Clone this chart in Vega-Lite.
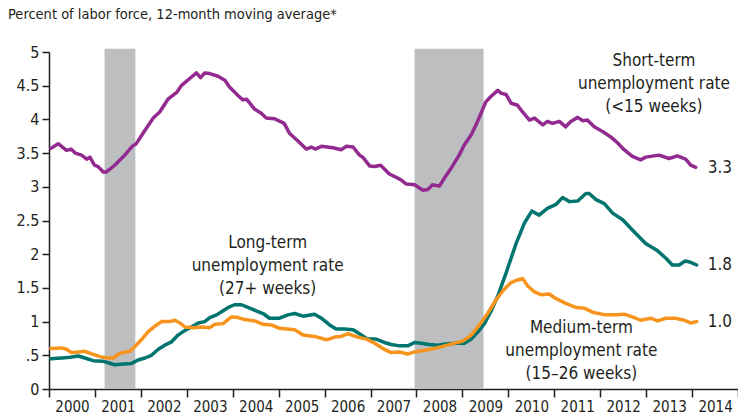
{
  "$schema": "https://vega.github.io/schema/vega-lite/v6.json",
  "width": 689,
  "height": 337,
  "autosize": {"type": "none"},
  "padding": {"left": 49, "top": 52, "right": 0, "bottom": 29},
  "background": "white",
  "config": {
    "view": {"stroke": null},
    "font": "DejaVu Sans Condensed, Roboto, sans-serif",
    "text": {"font": "DejaVu Sans Condensed, Roboto, sans-serif"}
  },
  "title": {
    "text": "Percent of labor force, 12-month moving average*",
    "anchor": "start",
    "frame": "group",
    "dx": -41,
    "offset": 22,
    "fontSize": 14.5,
    "fontWeight": "normal",
    "font": "DejaVu Sans Condensed, Roboto, sans-serif",
    "color": "#231f20"
  },
  "datasets": {
    "recessions": [
      {"start": 2001.21, "end": 2001.88},
      {"start": 2007.96, "end": 2009.46}
    ],
    "series": [
      {"series": "short", "year": 2000.04, "value": 3.57},
      {"series": "short", "year": 2000.2, "value": 3.64},
      {"series": "short", "year": 2000.38, "value": 3.54},
      {"series": "short", "year": 2000.48, "value": 3.56},
      {"series": "short", "year": 2000.57, "value": 3.5},
      {"series": "short", "year": 2000.71, "value": 3.47},
      {"series": "short", "year": 2000.82, "value": 3.41},
      {"series": "short", "year": 2000.89, "value": 3.44},
      {"series": "short", "year": 2000.99, "value": 3.32},
      {"series": "short", "year": 2001.07, "value": 3.3},
      {"series": "short", "year": 2001.18, "value": 3.22},
      {"series": "short", "year": 2001.25, "value": 3.22},
      {"series": "short", "year": 2001.43, "value": 3.32},
      {"series": "short", "year": 2001.65, "value": 3.47},
      {"series": "short", "year": 2001.81, "value": 3.6},
      {"series": "short", "year": 2001.9, "value": 3.64},
      {"series": "short", "year": 2002.09, "value": 3.84},
      {"series": "short", "year": 2002.27, "value": 4.02},
      {"series": "short", "year": 2002.41, "value": 4.11},
      {"series": "short", "year": 2002.59, "value": 4.3},
      {"series": "short", "year": 2002.78, "value": 4.4},
      {"series": "short", "year": 2002.88, "value": 4.5},
      {"series": "short", "year": 2003.07, "value": 4.61},
      {"series": "short", "year": 2003.21, "value": 4.69},
      {"series": "short", "year": 2003.3, "value": 4.62},
      {"series": "short", "year": 2003.39, "value": 4.69},
      {"series": "short", "year": 2003.5, "value": 4.68},
      {"series": "short", "year": 2003.68, "value": 4.64},
      {"series": "short", "year": 2003.83, "value": 4.58},
      {"series": "short", "year": 2003.93, "value": 4.48},
      {"series": "short", "year": 2004.12, "value": 4.35},
      {"series": "short", "year": 2004.22, "value": 4.29},
      {"series": "short", "year": 2004.3, "value": 4.3},
      {"series": "short", "year": 2004.48, "value": 4.15},
      {"series": "short", "year": 2004.62, "value": 4.09},
      {"series": "short", "year": 2004.73, "value": 4.02},
      {"series": "short", "year": 2004.91, "value": 4.01},
      {"series": "short", "year": 2005.12, "value": 3.94},
      {"series": "short", "year": 2005.24, "value": 3.79},
      {"series": "short", "year": 2005.42, "value": 3.68},
      {"series": "short", "year": 2005.6, "value": 3.56},
      {"series": "short", "year": 2005.71, "value": 3.59},
      {"series": "short", "year": 2005.8, "value": 3.56},
      {"series": "short", "year": 2005.93, "value": 3.6},
      {"series": "short", "year": 2006.18, "value": 3.58},
      {"series": "short", "year": 2006.36, "value": 3.55},
      {"series": "short", "year": 2006.47, "value": 3.6},
      {"series": "short", "year": 2006.62, "value": 3.59},
      {"series": "short", "year": 2006.76, "value": 3.47},
      {"series": "short", "year": 2006.83, "value": 3.44},
      {"series": "short", "year": 2006.98, "value": 3.31},
      {"series": "short", "year": 2007.09, "value": 3.3},
      {"series": "short", "year": 2007.22, "value": 3.32},
      {"series": "short", "year": 2007.41, "value": 3.19},
      {"series": "short", "year": 2007.56, "value": 3.14},
      {"series": "short", "year": 2007.67, "value": 3.1},
      {"series": "short", "year": 2007.78, "value": 3.04},
      {"series": "short", "year": 2007.96, "value": 3.03},
      {"series": "short", "year": 2008.14, "value": 2.95},
      {"series": "short", "year": 2008.25, "value": 2.96},
      {"series": "short", "year": 2008.35, "value": 3.03},
      {"series": "short", "year": 2008.5, "value": 3.01},
      {"series": "short", "year": 2008.61, "value": 3.13},
      {"series": "short", "year": 2008.75, "value": 3.27},
      {"series": "short", "year": 2008.93, "value": 3.47},
      {"series": "short", "year": 2009.04, "value": 3.62},
      {"series": "short", "year": 2009.19, "value": 3.77},
      {"series": "short", "year": 2009.33, "value": 3.97},
      {"series": "short", "year": 2009.51, "value": 4.26},
      {"series": "short", "year": 2009.62, "value": 4.34},
      {"series": "short", "year": 2009.77, "value": 4.43},
      {"series": "short", "year": 2009.84, "value": 4.39},
      {"series": "short", "year": 2009.95, "value": 4.37},
      {"series": "short", "year": 2010.06, "value": 4.24},
      {"series": "short", "year": 2010.2, "value": 4.21},
      {"series": "short", "year": 2010.31, "value": 4.11},
      {"series": "short", "year": 2010.46, "value": 3.99},
      {"series": "short", "year": 2010.57, "value": 4.02},
      {"series": "short", "year": 2010.75, "value": 3.92},
      {"series": "short", "year": 2010.85, "value": 3.97},
      {"series": "short", "year": 2010.96, "value": 3.94},
      {"series": "short", "year": 2011.11, "value": 3.97},
      {"series": "short", "year": 2011.25, "value": 3.89},
      {"series": "short", "year": 2011.36, "value": 3.97},
      {"series": "short", "year": 2011.51, "value": 4.03},
      {"series": "short", "year": 2011.62, "value": 3.98},
      {"series": "short", "year": 2011.72, "value": 3.99},
      {"series": "short", "year": 2011.87, "value": 3.89},
      {"series": "short", "year": 2012.05, "value": 3.82},
      {"series": "short", "year": 2012.23, "value": 3.74},
      {"series": "short", "year": 2012.38, "value": 3.65},
      {"series": "short", "year": 2012.52, "value": 3.55},
      {"series": "short", "year": 2012.7, "value": 3.45},
      {"series": "short", "year": 2012.88, "value": 3.4},
      {"series": "short", "year": 2012.99, "value": 3.44},
      {"series": "short", "year": 2013.28, "value": 3.47},
      {"series": "short", "year": 2013.5, "value": 3.42},
      {"series": "short", "year": 2013.68, "value": 3.46},
      {"series": "short", "year": 2013.86, "value": 3.41},
      {"series": "short", "year": 2013.97, "value": 3.32},
      {"series": "short", "year": 2014.08, "value": 3.29},

      {"series": "long", "year": 2000.04, "value": 0.45},
      {"series": "long", "year": 2000.28, "value": 0.46},
      {"series": "long", "year": 2000.46, "value": 0.47},
      {"series": "long", "year": 2000.64, "value": 0.49},
      {"series": "long", "year": 2000.78, "value": 0.46},
      {"series": "long", "year": 2000.96, "value": 0.42},
      {"series": "long", "year": 2001.18, "value": 0.41},
      {"series": "long", "year": 2001.29, "value": 0.39},
      {"series": "long", "year": 2001.43, "value": 0.36},
      {"series": "long", "year": 2001.62, "value": 0.37},
      {"series": "long", "year": 2001.8, "value": 0.38},
      {"series": "long", "year": 2001.94, "value": 0.43},
      {"series": "long", "year": 2002.09, "value": 0.46},
      {"series": "long", "year": 2002.23, "value": 0.5},
      {"series": "long", "year": 2002.38, "value": 0.59},
      {"series": "long", "year": 2002.52, "value": 0.65},
      {"series": "long", "year": 2002.67, "value": 0.7},
      {"series": "long", "year": 2002.81, "value": 0.8},
      {"series": "long", "year": 2002.96, "value": 0.87},
      {"series": "long", "year": 2003.1, "value": 0.92},
      {"series": "long", "year": 2003.25, "value": 0.98},
      {"series": "long", "year": 2003.39, "value": 1.0},
      {"series": "long", "year": 2003.5, "value": 1.06},
      {"series": "long", "year": 2003.65, "value": 1.1},
      {"series": "long", "year": 2003.79, "value": 1.16},
      {"series": "long", "year": 2003.93, "value": 1.22},
      {"series": "long", "year": 2004.04, "value": 1.25},
      {"series": "long", "year": 2004.19, "value": 1.25},
      {"series": "long", "year": 2004.33, "value": 1.21},
      {"series": "long", "year": 2004.51, "value": 1.16},
      {"series": "long", "year": 2004.66, "value": 1.12},
      {"series": "long", "year": 2004.8, "value": 1.05},
      {"series": "long", "year": 2005.02, "value": 1.05},
      {"series": "long", "year": 2005.2, "value": 1.1},
      {"series": "long", "year": 2005.35, "value": 1.12},
      {"series": "long", "year": 2005.53, "value": 1.08},
      {"series": "long", "year": 2005.78, "value": 1.11},
      {"series": "long", "year": 2005.93, "value": 1.05},
      {"series": "long", "year": 2006.11, "value": 0.95},
      {"series": "long", "year": 2006.25, "value": 0.89},
      {"series": "long", "year": 2006.43, "value": 0.89},
      {"series": "long", "year": 2006.62, "value": 0.88},
      {"series": "long", "year": 2006.8, "value": 0.8},
      {"series": "long", "year": 2006.94, "value": 0.74},
      {"series": "long", "year": 2007.12, "value": 0.74},
      {"series": "long", "year": 2007.3, "value": 0.69},
      {"series": "long", "year": 2007.45, "value": 0.66},
      {"series": "long", "year": 2007.63, "value": 0.64},
      {"series": "long", "year": 2007.81, "value": 0.64},
      {"series": "long", "year": 2007.96, "value": 0.69},
      {"series": "long", "year": 2008.1, "value": 0.68},
      {"series": "long", "year": 2008.28, "value": 0.66},
      {"series": "long", "year": 2008.46, "value": 0.65},
      {"series": "long", "year": 2008.68, "value": 0.67},
      {"series": "long", "year": 2008.86, "value": 0.68},
      {"series": "long", "year": 2009.04, "value": 0.68},
      {"series": "long", "year": 2009.19, "value": 0.74},
      {"series": "long", "year": 2009.33, "value": 0.84},
      {"series": "long", "year": 2009.48, "value": 0.97},
      {"series": "long", "year": 2009.62, "value": 1.15},
      {"series": "long", "year": 2009.77, "value": 1.38},
      {"series": "long", "year": 2009.95, "value": 1.72},
      {"series": "long", "year": 2010.17, "value": 2.16},
      {"series": "long", "year": 2010.35, "value": 2.46},
      {"series": "long", "year": 2010.51, "value": 2.64},
      {"series": "long", "year": 2010.67, "value": 2.58},
      {"series": "long", "year": 2010.85, "value": 2.68},
      {"series": "long", "year": 2011.04, "value": 2.74},
      {"series": "long", "year": 2011.18, "value": 2.84},
      {"series": "long", "year": 2011.33, "value": 2.78},
      {"series": "long", "year": 2011.51, "value": 2.79},
      {"series": "long", "year": 2011.69, "value": 2.9},
      {"series": "long", "year": 2011.76, "value": 2.9},
      {"series": "long", "year": 2011.91, "value": 2.81},
      {"series": "long", "year": 2012.09, "value": 2.75},
      {"series": "long", "year": 2012.27, "value": 2.61},
      {"series": "long", "year": 2012.49, "value": 2.51},
      {"series": "long", "year": 2012.7, "value": 2.36},
      {"series": "long", "year": 2012.99, "value": 2.16},
      {"series": "long", "year": 2013.25, "value": 2.05},
      {"series": "long", "year": 2013.43, "value": 1.94},
      {"series": "long", "year": 2013.57, "value": 1.84},
      {"series": "long", "year": 2013.72, "value": 1.84},
      {"series": "long", "year": 2013.85, "value": 1.9},
      {"series": "long", "year": 2013.97, "value": 1.88},
      {"series": "long", "year": 2014.1, "value": 1.84},

      {"series": "medium", "year": 2000.04, "value": 0.6},
      {"series": "medium", "year": 2000.28, "value": 0.61},
      {"series": "medium", "year": 2000.38, "value": 0.59},
      {"series": "medium", "year": 2000.49, "value": 0.54},
      {"series": "medium", "year": 2000.64, "value": 0.55},
      {"series": "medium", "year": 2000.78, "value": 0.56},
      {"series": "medium", "year": 2000.93, "value": 0.52},
      {"series": "medium", "year": 2001.11, "value": 0.48},
      {"series": "medium", "year": 2001.25, "value": 0.46},
      {"series": "medium", "year": 2001.4, "value": 0.46},
      {"series": "medium", "year": 2001.54, "value": 0.53},
      {"series": "medium", "year": 2001.76, "value": 0.56},
      {"series": "medium", "year": 2001.87, "value": 0.63},
      {"series": "medium", "year": 2002.01, "value": 0.73},
      {"series": "medium", "year": 2002.16, "value": 0.85},
      {"series": "medium", "year": 2002.3, "value": 0.93},
      {"series": "medium", "year": 2002.45, "value": 1.0},
      {"series": "medium", "year": 2002.63, "value": 1.0},
      {"series": "medium", "year": 2002.74, "value": 1.02},
      {"series": "medium", "year": 2002.85, "value": 0.98},
      {"series": "medium", "year": 2002.96, "value": 0.92},
      {"series": "medium", "year": 2003.14, "value": 0.91},
      {"series": "medium", "year": 2003.32, "value": 0.92},
      {"series": "medium", "year": 2003.5, "value": 0.91},
      {"series": "medium", "year": 2003.61, "value": 0.96},
      {"series": "medium", "year": 2003.79, "value": 0.97},
      {"series": "medium", "year": 2003.97, "value": 1.07},
      {"series": "medium", "year": 2004.12, "value": 1.06},
      {"series": "medium", "year": 2004.26, "value": 1.03},
      {"series": "medium", "year": 2004.48, "value": 1.01},
      {"series": "medium", "year": 2004.66, "value": 0.96},
      {"series": "medium", "year": 2004.84, "value": 0.95},
      {"series": "medium", "year": 2005.02, "value": 0.9},
      {"series": "medium", "year": 2005.35, "value": 0.88},
      {"series": "medium", "year": 2005.53, "value": 0.8},
      {"series": "medium", "year": 2005.78, "value": 0.78},
      {"series": "medium", "year": 2006.04, "value": 0.73},
      {"series": "medium", "year": 2006.22, "value": 0.77},
      {"series": "medium", "year": 2006.36, "value": 0.78},
      {"series": "medium", "year": 2006.51, "value": 0.82},
      {"series": "medium", "year": 2006.72, "value": 0.77},
      {"series": "medium", "year": 2006.91, "value": 0.74},
      {"series": "medium", "year": 2007.09, "value": 0.68},
      {"series": "medium", "year": 2007.27, "value": 0.6},
      {"series": "medium", "year": 2007.45, "value": 0.54},
      {"series": "medium", "year": 2007.63, "value": 0.55},
      {"series": "medium", "year": 2007.81, "value": 0.52},
      {"series": "medium", "year": 2007.96, "value": 0.55},
      {"series": "medium", "year": 2008.17, "value": 0.57},
      {"series": "medium", "year": 2008.39, "value": 0.6},
      {"series": "medium", "year": 2008.61, "value": 0.64},
      {"series": "medium", "year": 2008.83, "value": 0.68},
      {"series": "medium", "year": 2009.01, "value": 0.71},
      {"series": "medium", "year": 2009.19, "value": 0.8},
      {"series": "medium", "year": 2009.37, "value": 0.95},
      {"series": "medium", "year": 2009.55, "value": 1.12},
      {"series": "medium", "year": 2009.73, "value": 1.32},
      {"series": "medium", "year": 2009.91, "value": 1.48},
      {"series": "medium", "year": 2010.06, "value": 1.58},
      {"series": "medium", "year": 2010.17, "value": 1.61},
      {"series": "medium", "year": 2010.31, "value": 1.64},
      {"series": "medium", "year": 2010.42, "value": 1.53},
      {"series": "medium", "year": 2010.57, "value": 1.44},
      {"series": "medium", "year": 2010.71, "value": 1.4},
      {"series": "medium", "year": 2010.89, "value": 1.41},
      {"series": "medium", "year": 2011.04, "value": 1.34},
      {"series": "medium", "year": 2011.25, "value": 1.27},
      {"series": "medium", "year": 2011.47, "value": 1.21},
      {"series": "medium", "year": 2011.65, "value": 1.2},
      {"series": "medium", "year": 2011.87, "value": 1.13},
      {"series": "medium", "year": 2012.12, "value": 1.1},
      {"series": "medium", "year": 2012.34, "value": 1.1},
      {"series": "medium", "year": 2012.52, "value": 1.11},
      {"series": "medium", "year": 2012.7, "value": 1.07},
      {"series": "medium", "year": 2012.88, "value": 1.02},
      {"series": "medium", "year": 2013.1, "value": 1.05},
      {"series": "medium", "year": 2013.25, "value": 1.01},
      {"series": "medium", "year": 2013.43, "value": 1.05},
      {"series": "medium", "year": 2013.64, "value": 1.05},
      {"series": "medium", "year": 2013.83, "value": 1.02},
      {"series": "medium", "year": 2013.97, "value": 0.98},
      {"series": "medium", "year": 2014.1, "value": 1.0}
    ],
    "notes": [
      {"year": 2013.17, "value": 4.99, "label": ["Short-term", "unemployment rate", "(<15 weeks)"]},
      {"year": 2004.76, "value": 2.29, "label": ["Long-term", "unemployment rate", "(27+ weeks)"]},
      {"year": 2011.59, "value": 1.03, "label": ["Medium-term", "unemployment rate", "(15\u201326 weeks)"]}
    ],
    "ends": [
      {"year": 2014.1, "value": 3.28, "label": "3.3"},
      {"year": 2014.1, "value": 1.84, "label": "1.8"},
      {"year": 2014.1, "value": 1.0, "label": "1.0"}
    ]
  },
  "layer": [
    {
      "data": {"name": "recessions"},
      "mark": {"type": "rect", "color": "#bcbec0"},
      "encoding": {
        "x": {"field": "start", "type": "quantitative", "scale": {"domain": [2000, 2015], "nice": false, "zero": false}},
        "x2": {"field": "end"},
        "y": {"datum": 0, "type": "quantitative", "scale": {"domain": [0, 5], "nice": false}},
        "y2": {"datum": 5.05}
      }
    },
    {
      "data": {"name": "series"},
      "mark": {"type": "line", "strokeWidth": 3.5, "strokeJoin": "round", "strokeCap": "round"},
      "encoding": {
        "x": {
          "field": "year", "type": "quantitative",
          "axis": {
            "title": null, "grid": false,
            "values": [2000, 2001, 2002, 2003, 2004, 2005, 2006, 2007, 2008, 2009, 2010, 2011, 2012, 2013, 2014, 2015],
            "labelExpr": "datum.value == 2015 ? '' : format(datum.value, 'd')",
            "labelOffset": 23, "labelFlush": false, "labelOverlap": false,
            "labelFont": "DejaVu Sans Condensed, Roboto, sans-serif", "labelFontSize": 15, "labelColor": "#231f20",
            "labelPadding": 2, "tickSize": 8, "tickColor": "#231f20", "tickWidth": 1.5,
            "domainColor": "#231f20", "domainWidth": 1.5
          }
        },
        "y": {
          "field": "value", "type": "quantitative",
          "axis": {
            "title": null, "grid": false,
            "tickCount": 10,
            "labelExpr": "datum.value == 0.5 ? '.5' : format(datum.value, '~g')",
            "labelOverlap": false, "labelFlush": false,
            "labelFont": "DejaVu Sans Condensed, Roboto, sans-serif", "labelFontSize": 16, "labelColor": "#231f20",
            "labelPadding": 3, "tickSize": 7, "tickColor": "#231f20", "tickWidth": 1.5,
            "domainColor": "#231f20", "domainWidth": 1.5
          }
        },
        "color": {
          "field": "series", "type": "nominal",
          "scale": {"domain": ["short", "long", "medium"], "range": ["#922a8f", "#00756f", "#f7941d"]},
          "legend": null
        },
        "detail": {"field": "series"}
      }
    },
    {
      "data": {"name": "notes"},
      "mark": {"type": "text", "align": "center", "baseline": "top", "fontSize": 17, "lineHeight": 23, "color": "#231f20"},
      "encoding": {
        "x": {"field": "year", "type": "quantitative"},
        "y": {"field": "value", "type": "quantitative"},
        "text": {"field": "label"}
      }
    },
    {
      "data": {"name": "ends"},
      "mark": {"type": "text", "align": "left", "baseline": "middle", "dx": 11, "fontSize": 17, "color": "#231f20"},
      "encoding": {
        "x": {"field": "year", "type": "quantitative"},
        "y": {"field": "value", "type": "quantitative"},
        "text": {"field": "label"}
      }
    }
  ]
}
